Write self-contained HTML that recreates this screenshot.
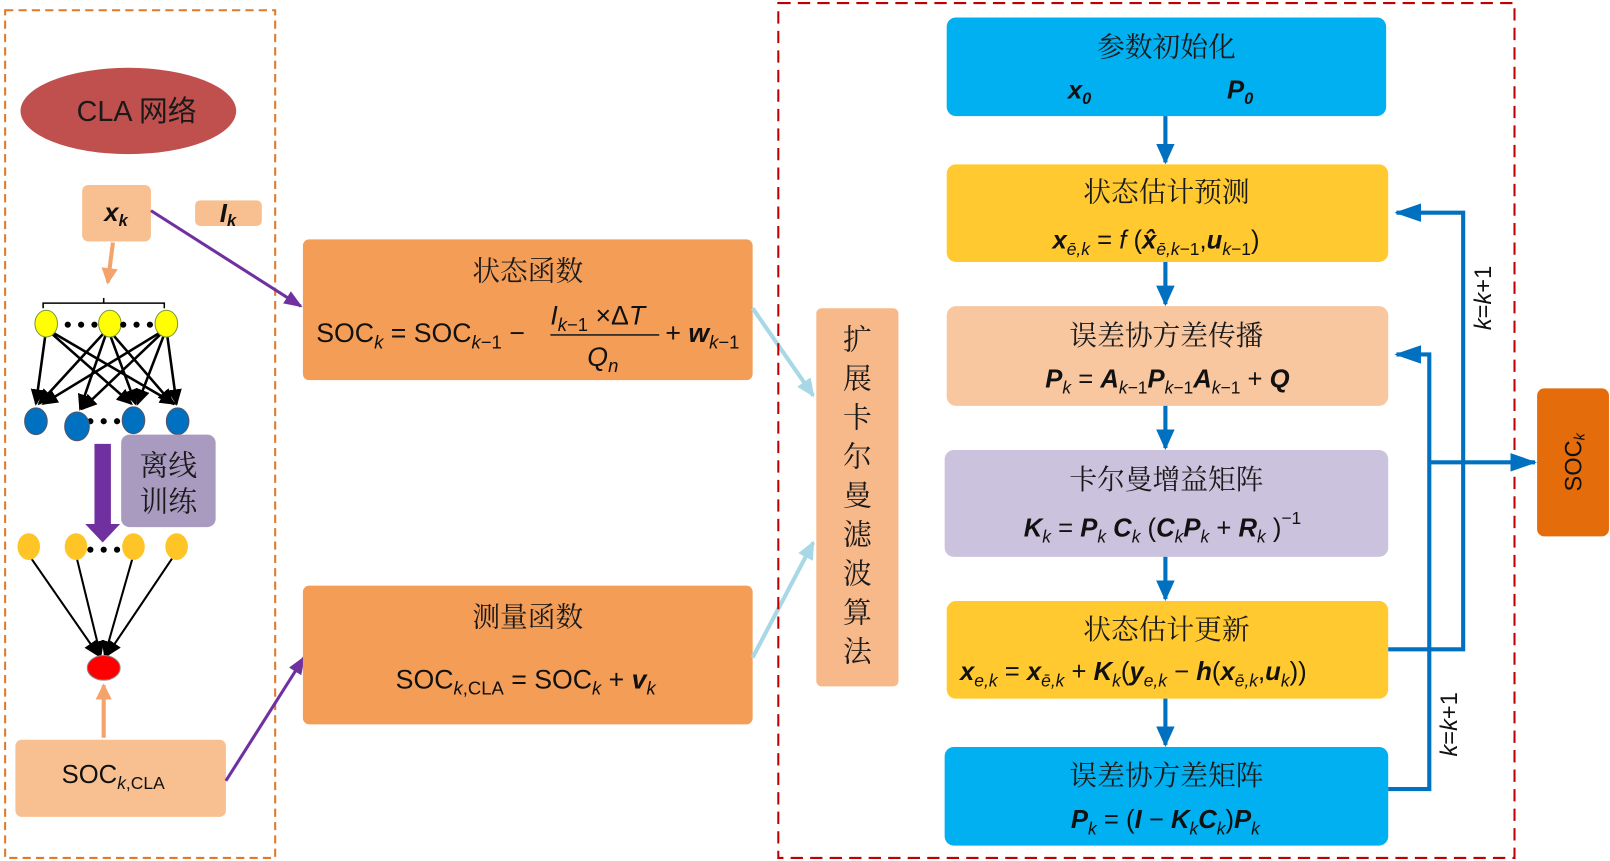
<!DOCTYPE html>
<html><head><meta charset="utf-8"><style>
html,body{margin:0;padding:0;background:#fff}
svg{display:block}
.cn{font-family:"Liberation Serif","Noto Serif CJK SC",serif;font-size:27px;fill:#1a1a1a}
.f{font-family:"Liberation Sans","Noto Sans CJK SC",sans-serif;font-size:25px;fill:#111}
.b{font-weight:bold;font-style:italic}
.i{font-style:italic}
</style></head><body>
<svg width="1610" height="861" viewBox="0 0 1568 838" preserveAspectRatio="none" xmlns="http://www.w3.org/2000/svg">
<defs>
<marker id="ab" markerWidth="20" markerHeight="18" refX="18" refY="9" orient="auto" markerUnits="userSpaceOnUse"><path d="M0,0 L20,9 L0,18z" fill="#0070c0"/></marker>
<marker id="ab2" markerWidth="26" markerHeight="18" refX="24" refY="9" orient="auto" markerUnits="userSpaceOnUse"><path d="M0,0 L26,9 L0,18z" fill="#0070c0"/></marker>
<marker id="ap" markerWidth="18" markerHeight="14" refX="16" refY="7" orient="auto" markerUnits="userSpaceOnUse"><path d="M0,0 L18,7 L0,14z" fill="#7030a0"/></marker>
<marker id="al" markerWidth="18" markerHeight="16" refX="16" refY="8" orient="auto" markerUnits="userSpaceOnUse"><path d="M0,0 L18,8 L0,16z" fill="#a8d8e6"/></marker>
<marker id="ao" markerWidth="16" markerHeight="16" refX="14" refY="8" orient="auto" markerUnits="userSpaceOnUse"><path d="M0,0 L16,8 L0,16z" fill="#f4a46a"/></marker>
<marker id="ak" markerWidth="16" markerHeight="14" refX="14" refY="7" orient="auto" markerUnits="userSpaceOnUse"><path d="M0,0 L16,7 L0,14z" fill="#000"/></marker>
</defs>
<rect x="5" y="10" width="263" height="825" fill="none" stroke="#e07a2a" stroke-width="2" stroke-dasharray="8,5"/>
<ellipse cx="125" cy="108" rx="105" ry="42" fill="#c0504d"/>
<text x="133" y="118" text-anchor="middle" class="f" style="font-size:28px;fill:#1a1a1a">CLA 网络</text>
<rect x="80" y="180" width="67" height="55" rx="6" fill="#f8c090"/>
<text x="113" y="215" text-anchor="middle" class="f b">x<tspan font-size="16" dy="5">k</tspan></text>
<rect x="190" y="195" width="65" height="25" rx="5" fill="#f8c090"/>
<text x="222" y="216" text-anchor="middle" class="f b">I<tspan font-size="16" dy="4">k</tspan></text>
<line x1="110" y1="236" x2="105" y2="275" stroke="#f4a46a" stroke-width="4" marker-end="url(#ao)"/>
<path d="M42,300 V295 H160 V300 M101,295 V290" fill="none" stroke="#000" stroke-width="1.5"/>
<g stroke="#000" stroke-width="2.5" marker-end="url(#ak)">
<line x1="45" y1="320" x2="35" y2="393"/><line x1="45" y1="320" x2="128" y2="393"/><line x1="45" y1="320" x2="170" y2="393"/>
<line x1="105" y1="320" x2="38" y2="393"/><line x1="105" y1="320" x2="78" y2="398"/><line x1="105" y1="320" x2="132" y2="393"/><line x1="105" y1="320" x2="168" y2="393"/>
<line x1="162" y1="320" x2="42" y2="393"/><line x1="162" y1="320" x2="80" y2="398"/><line x1="162" y1="320" x2="134" y2="393"/><line x1="162" y1="320" x2="172" y2="393"/>
</g>
<g fill="#ffff00" stroke="#7a9a30"><ellipse cx="45" cy="315" rx="11" ry="13"/><ellipse cx="107" cy="315" rx="11" ry="13"/><ellipse cx="162" cy="315" rx="11" ry="13"/></g>
<g fill="#000"><circle cx="66" cy="316" r="3"/><circle cx="79" cy="316" r="3"/><circle cx="92" cy="316" r="3"/><circle cx="120" cy="316" r="3"/><circle cx="133" cy="316" r="3"/><circle cx="146" cy="316" r="3"/>
<circle cx="88" cy="410" r="3"/><circle cx="101" cy="410" r="3"/><circle cx="114" cy="410" r="3"/>
<circle cx="88" cy="535" r="3"/><circle cx="101" cy="535" r="3"/><circle cx="114" cy="535" r="3"/></g>
<g fill="#0070c0" stroke="#556"><ellipse cx="35" cy="410" rx="11" ry="13"/><ellipse cx="75" cy="415" rx="12" ry="14"/><ellipse cx="130" cy="409" rx="11" ry="13"/><ellipse cx="173" cy="410" rx="11" ry="13"/></g>
<path d="M92,432 H108 V510 H117 L100,528 L83,510 H92z" fill="#7030a0"/>
<rect x="118" y="423" width="92" height="90" rx="8" fill="#a99bc0"/>
<text x="164" y="463" text-anchor="middle" class="cn" style="font-size:28px">离线</text>
<text x="164" y="498" text-anchor="middle" class="cn" style="font-size:28px">训练</text>
<g stroke="#000" stroke-width="2" marker-end="url(#ak)">
<line x1="28" y1="540" x2="96" y2="638"/><line x1="74" y1="540" x2="98" y2="638"/><line x1="130" y1="540" x2="102" y2="638"/><line x1="170" y1="540" x2="104" y2="638"/>
</g>
<g fill="#ffc526"><ellipse cx="28" cy="532" rx="11" ry="13"/><ellipse cx="74" cy="532" rx="11" ry="13"/><ellipse cx="130" cy="532" rx="11" ry="13"/><ellipse cx="172" cy="532" rx="11" ry="13"/></g>
<ellipse cx="101" cy="650" rx="16" ry="12" fill="#ff0000" stroke="#888"/>
<line x1="101" y1="718" x2="101" y2="667" stroke="#f4a46a" stroke-width="4" marker-end="url(#ao)"/>
<rect x="15" y="720" width="205" height="75" rx="6" fill="#f8c090"/>
<text x="60" y="762" class="f">SOC<tspan font-size="17" dy="6" class="i">k</tspan><tspan font-size="17">,CLA</tspan></text>
<line x1="147" y1="205" x2="293" y2="298" stroke="#7030a0" stroke-width="3" marker-end="url(#ap)"/>
<line x1="220" y1="760" x2="296" y2="640" stroke="#7030a0" stroke-width="3" marker-end="url(#ap)"/>
<rect x="295" y="233" width="438" height="137" rx="6" fill="#f49d57"/>
<text x="514" y="273" text-anchor="middle" class="cn">状态函数</text>
<text x="308" y="333" class="f" style="font-size:26px">SOC<tspan class="i" font-size="18" dy="6">k</tspan><tspan dy="-6"> = SOC</tspan><tspan class="i" font-size="18" dy="6">k</tspan><tspan font-size="18">−1</tspan><tspan dy="-6"> −</tspan></text>
<line x1="536" y1="326" x2="642" y2="326" stroke="#222" stroke-width="1.5"/>
<text x="536" y="316" class="f" style="font-size:26px"><tspan class="i">I</tspan><tspan class="i" font-size="18" dy="6">k</tspan><tspan font-size="18">−1</tspan><tspan dy="-6"> ×Δ</tspan><tspan class="i">T</tspan></text>
<text x="572" y="356" class="f i" style="font-size:26px">Q<tspan font-size="18" dy="6">n</tspan></text>
<text x="648" y="333" class="f" style="font-size:26px">+ <tspan class="b">w</tspan><tspan class="i" font-size="18" dy="6">k</tspan><tspan font-size="18">−1</tspan></text>
<rect x="295" y="570" width="438" height="135" rx="6" fill="#f49d57"/>
<text x="514" y="610" text-anchor="middle" class="cn">测量函数</text>
<text x="512" y="670" text-anchor="middle" class="f" style="font-size:26px">SOC<tspan font-size="18" dy="6"><tspan class="i">k</tspan>,CLA</tspan><tspan dy="-6"> = SOC</tspan><tspan class="i" font-size="18" dy="6">k</tspan><tspan dy="-6"> + </tspan><tspan class="b">v</tspan><tspan class="i" font-size="18" dy="6">k</tspan></text>
<line x1="733" y1="300" x2="792" y2="385" stroke="#a8d8e6" stroke-width="4" marker-end="url(#al)"/>
<line x1="733" y1="640" x2="792" y2="528" stroke="#a8d8e6" stroke-width="4" marker-end="url(#al)"/>
<rect x="795" y="300" width="80" height="368" rx="5" fill="#f8b98a"/>
<g class="cn" text-anchor="middle" style="font-size:28px">
<text x="835" y="340">扩</text><text x="835" y="378">展</text><text x="835" y="416">卡</text><text x="835" y="454">尔</text><text x="835" y="492">曼</text><text x="835" y="530">滤</text><text x="835" y="568">波</text><text x="835" y="606">算</text><text x="835" y="644">法</text></g>
<rect x="758" y="3" width="717" height="832" fill="none" stroke="#c00000" stroke-width="2" stroke-dasharray="12,7"/>
<rect x="922" y="17" width="428" height="96" rx="9" fill="#00b0f0"/>
<text x="1136" y="55" text-anchor="middle" class="cn">参数初始化</text>
<text x="1040" y="96" class="f b">x<tspan font-size="16" dy="5">0</tspan></text>
<text x="1195" y="96" class="f b">P<tspan font-size="16" dy="5">0</tspan></text>
<rect x="922" y="160" width="430" height="95" rx="9" fill="#ffc92f"/>
<text x="1136" y="196" text-anchor="middle" class="cn">状态估计预测</text>
<text x="1025" y="242" class="f"><tspan class="b">x</tspan><tspan class="i" font-size="17" dy="6">ē,k</tspan><tspan dy="-6"> = </tspan><tspan class="i">f</tspan> (<tspan class="b">x̂</tspan><tspan class="i" font-size="17" dy="6">ē,k</tspan><tspan font-size="17">−1</tspan><tspan dy="-6">,</tspan><tspan class="b">u</tspan><tspan class="i" font-size="17" dy="6">k</tspan><tspan font-size="17">−1</tspan><tspan dy="-6">)</tspan></text>
<rect x="922" y="298" width="430" height="97" rx="9" fill="#f8c7a0"/>
<text x="1136" y="336" text-anchor="middle" class="cn">误差协方差传播</text>
<text x="1018" y="377" class="f"><tspan class="b">P</tspan><tspan class="i" font-size="17" dy="6">k</tspan><tspan dy="-6"> =  </tspan><tspan class="b">A</tspan><tspan class="i" font-size="17" dy="6">k</tspan><tspan font-size="17">−1</tspan><tspan class="b" dy="-6">P</tspan><tspan class="i" font-size="17" dy="6">k</tspan><tspan font-size="17">−1</tspan><tspan class="b" dy="-6">A</tspan><tspan class="i" font-size="17" dy="6">k</tspan><tspan font-size="17">−1</tspan><tspan dy="-6"> + </tspan><tspan class="b">Q</tspan></text>
<rect x="920" y="438" width="432" height="104" rx="9" fill="#cbc3dd"/>
<text x="1136" y="476" text-anchor="middle" class="cn">卡尔曼增益矩阵</text>
<text x="997" y="522" class="f"><tspan class="b">K</tspan><tspan class="i" font-size="17" dy="6">k</tspan><tspan dy="-6"> = </tspan><tspan class="b">P</tspan><tspan class="i" font-size="17" dy="6">k</tspan><tspan class="b" dy="-6"> C</tspan><tspan class="i" font-size="17" dy="6">k</tspan><tspan dy="-6"> (</tspan><tspan class="b">C</tspan><tspan class="i" font-size="17" dy="6">k</tspan><tspan class="b" dy="-6">P</tspan><tspan class="i" font-size="17" dy="6">k</tspan><tspan dy="-6"> + </tspan><tspan class="b">R</tspan><tspan class="i" font-size="17" dy="6">k</tspan><tspan dy="-6"> )</tspan><tspan font-size="17" dy="-12">−1</tspan></text>
<rect x="922" y="585" width="430" height="95" rx="9" fill="#ffc92f"/>
<text x="1136" y="622" text-anchor="middle" class="cn">状态估计更新</text>
<text x="935" y="662" class="f"><tspan class="b">x</tspan><tspan class="i" font-size="17" dy="6">e,k</tspan><tspan dy="-6"> = </tspan><tspan class="b">x</tspan><tspan class="i" font-size="17" dy="6">ē,k</tspan><tspan dy="-6"> + </tspan><tspan class="b">K</tspan><tspan class="i" font-size="17" dy="6">k</tspan><tspan dy="-6">(</tspan><tspan class="b">y</tspan><tspan class="i" font-size="17" dy="6">e,k</tspan><tspan dy="-6"> − </tspan><tspan class="b">h</tspan>(<tspan class="b">x</tspan><tspan class="i" font-size="17" dy="6">ē,k</tspan><tspan dy="-6">,</tspan><tspan class="b">u</tspan><tspan class="i" font-size="17" dy="6">k</tspan><tspan dy="-6">))</tspan></text>
<rect x="920" y="727" width="432" height="96" rx="9" fill="#00b0f0"/>
<text x="1136" y="764" text-anchor="middle" class="cn">误差协方差矩阵</text>
<text x="1043" y="806" class="f"><tspan class="b">P</tspan><tspan class="i" font-size="17" dy="6">k</tspan><tspan dy="-6"> = (</tspan><tspan class="b">I</tspan><tspan> − </tspan><tspan class="b">K</tspan><tspan class="i" font-size="17" dy="6">k</tspan><tspan class="b" dy="-6">C</tspan><tspan class="i" font-size="17" dy="6">k</tspan><tspan dy="-6">)</tspan><tspan class="b">P</tspan><tspan class="i" font-size="17" dy="6">k</tspan></text>
<g stroke="#0070c0" stroke-width="4" marker-end="url(#ab)">
<line x1="1135" y1="113" x2="1135" y2="158"/><line x1="1135" y1="255" x2="1135" y2="296"/><line x1="1135" y1="395" x2="1135" y2="436"/><line x1="1135" y1="542" x2="1135" y2="583"/><line x1="1135" y1="680" x2="1135" y2="725"/>
</g>
<g fill="none" stroke="#0070c0" stroke-width="4">
<path d="M1352,632 H1425 V207 H1360" marker-end="url(#ab2)"/>
<path d="M1352,768 H1392 V345 H1360" marker-end="url(#ab2)"/>
<path d="M1392,450 H1495" marker-end="url(#ab2)"/>
</g>
<text transform="translate(1452,290) rotate(-90)" text-anchor="middle" class="f" style="font-size:23px"><tspan class="i">k</tspan>=<tspan class="i">k</tspan>+1</text>
<text transform="translate(1419,705) rotate(-90)" text-anchor="middle" class="f" style="font-size:23px"><tspan class="i">k</tspan>=<tspan class="i">k</tspan>+1</text>
<rect x="1497" y="378" width="70" height="144" rx="7" fill="#e46c0a"/>
<text transform="translate(1540,450) rotate(-90)" text-anchor="middle" class="f" style="font-size:23px">SOC<tspan font-size="14" dy="3" class="i">k</tspan></text>
</svg>
</body></html>
